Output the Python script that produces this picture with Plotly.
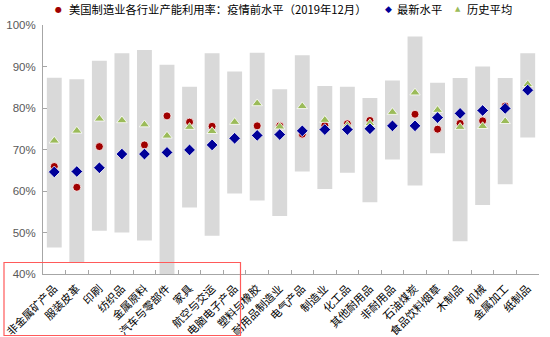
import plotly.graph_objects as go

categories = ["非金属矿产品", "服装皮革", "印刷", "纺织品", "金属原料", "汽车与零部件", "家具",
              "航空与交运", "电脑电子产品", "塑料与橡胶", "耐用品制造业", "电气产品", "制造业",
              "化工品", "其他耐用品", "非耐用品", "石油煤炭", "食品饮料烟草", "木制品", "机械",
              "金属加工", "纸制品"]
range_high = [87.3, 86.9, 91.4, 93.2, 94.0, 90.4, 85.1, 93.2, 88.8, 93.3, 84.5, 92.7, 85.3,
              85.1, 82.4, 86.6, 97.2, 86.1, 87.2, 90.0, 87.2, 93.2]
range_low = [46.4, 42.9, 50.4, 50.0, 48.1, 40.0, 56.0, 49.2, 59.4, 57.7, 54.0, 64.7, 60.5,
             64.4, 57.3, 67.6, 61.3, 69.1, 47.9, 56.6, 61.6, 72.9]
pre_covid = [65.9, 60.9, 70.7, 68.8, 71.1, 78.1, 76.6, 75.6, 72.7, 75.7, 75.7, 73.7, 75.8,
             76.2, 77.0, 75.9, 78.5, 74.9, 76.3, 76.9, 80.5, 84.5]
latest = [64.6, 64.7, 65.6, 68.9, 68.9, 69.3, 69.9, 71.1, 72.7, 73.4, 73.6, 74.5, 74.8,
          74.8, 75.0, 75.7, 75.7, 77.7, 78.7, 79.4, 79.9, 84.3]
hist_avg = [72.1, 74.5, 77.4, 77.0, 76.0, 73.3, 75.4, 74.4, 76.6, 81.1, 75.5, 80.4, 77.1,
            75.8, 76.3, 79.0, 83.7, 79.5, 75.4, 75.6, 76.8, 85.7]
y_ticks = [40, 50, 60, 70, 80, 90, 100]
legend_names = ["美国制造业各行业产能利用率：疫情前水平（2019年12月）", "最新水平", "历史平均"]

RED, BLUE, GREEN = "#A00000", "#000099", "#9BBB59"

fig = go.Figure()
fig.add_trace(go.Bar(
    x=categories, y=[h - l for h, l in zip(range_high, range_low)], base=range_low,
    marker=dict(color="#D9D9D9", line=dict(width=0)), width=0.66,
    showlegend=False, hoverinfo="skip"))
fig.add_trace(go.Scatter(
    x=categories, y=pre_covid, mode="markers", name=legend_names[0], showlegend=False,
    marker=dict(symbol="circle", size=8, color=RED, line=dict(color="white", width=0.8))))
fig.add_trace(go.Scatter(
    x=categories, y=hist_avg, mode="markers", name=legend_names[2], showlegend=False,
    marker=dict(symbol="triangle-up", size=9, color=GREEN, line=dict(color="white", width=0.8))))
fig.add_trace(go.Scatter(
    x=categories, y=latest, mode="markers", name=legend_names[1], showlegend=False,
    marker=dict(symbol="diamond", size=9, color=BLUE, line=dict(color="white", width=0.8))))

# pixel helpers (plot area 43..539 x 25..274)
px0, px1, py0, py1 = 43, 539, 25, 274
def xp(v):
    return (v - px0) / (px1 - px0)
def yp(v):
    return (py1 - v) / (py1 - py0)

# legend drawn as text
legend_items = [
    (58, "●", 8, RED, 67, legend_names[0]),
    (388, "◆", 9, BLUE, 395, legend_names[1]),
    (458, "▲", 7, GREEN, 465, legend_names[2]),
]
for sx, sym, ss, col, tx, txt in legend_items:
    fig.add_annotation(xref="paper", yref="paper", x=xp(sx), y=yp(9), text=sym,
                       showarrow=False, xanchor="center", yanchor="middle",
                       font=dict(size=ss, color=col, family="DejaVu Sans"))
    fig.add_annotation(xref="paper", yref="paper", x=xp(tx), y=yp(9), text=txt,
                       showarrow=False, xanchor="left", yanchor="middle",
                       font=dict(size=11.3, color="black", family="Noto Sans CJK SC"))

# highlight box
fig.add_shape(type="rect", xref="paper", yref="paper",
              x0=xp(4), x1=xp(240.5), y0=yp(335.5), y1=yp(262.5),
              line=dict(color="#FF5A5A", width=1.2), fillcolor="rgba(0,0,0,0)")

fig.update_layout(
    width=550, height=337,
    margin=dict(l=43, r=11, t=25, b=63, autoexpand=False),
    plot_bgcolor="white", paper_bgcolor="white",
    font=dict(family="Noto Sans CJK SC, Liberation Sans, sans-serif", size=10, color="black"),
    showlegend=False,
    bargap=0.34,
)
fig.update_xaxes(
    type="category", tickangle=-45, showgrid=False,
    showline=True, linecolor="#A6A6A6", linewidth=1,
    ticks="inside", ticklen=4, tickcolor="#A6A6A6", tickson="boundaries",
    tickfont=dict(size=11, color="black", family="Noto Sans CJK SC"),
    ticklabelstandoff=3,
    range=[-0.5, len(categories) - 0.5])
fig.update_yaxes(
    range=[40, 100], tickvals=y_ticks, ticktext=[f"{v}%" for v in y_ticks],
    showgrid=False, showline=True, linecolor="#A6A6A6", linewidth=1,
    ticks="inside", ticklen=4, tickcolor="#A6A6A6", zeroline=False,
    tickfont=dict(size=11.5, color="#595959", family="Liberation Sans"),
    ticklabelstandoff=4)

fig.write_html("out.html")
